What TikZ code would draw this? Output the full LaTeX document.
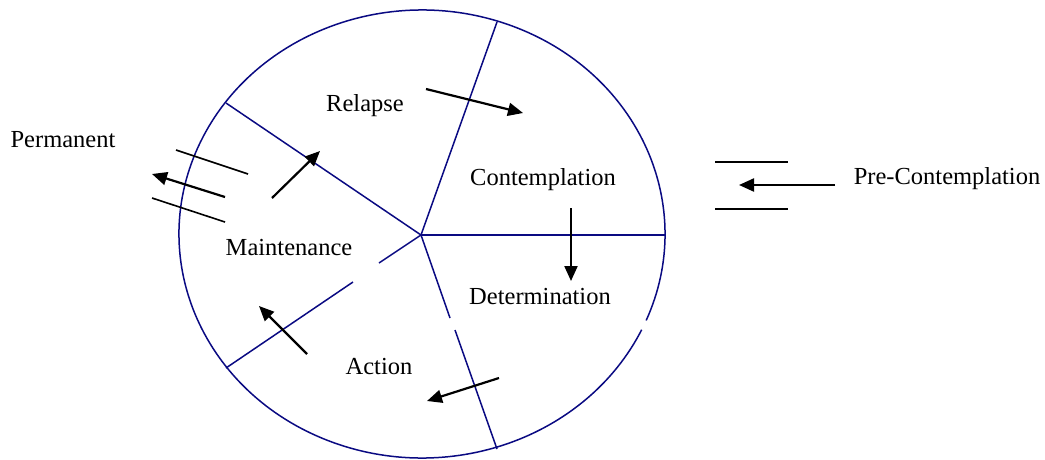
\documentclass[tikz,border=0pt]{standalone}
\usepackage{fontspec}
\setmainfont{Liberation Serif}
\usetikzlibrary{arrows.meta,calc}
\definecolor{ringblue}{RGB}{10,10,130}
\tikzset{
  ring/.style={draw=ringblue, line width=1.5pt},
  flow/.style={draw=black, line width=2.2pt, -{Triangle[length=15pt,width=13pt]}},
  bar/.style={draw=black, line width=1.6pt},
  lbl/.style={font=\fontsize{24.5}{29}\selectfont, anchor=base, inner sep=0pt}
}
\begin{document}
\begin{tikzpicture}[x=1pt,y=1pt]
\useasboundingbox (0,0) rectangle (1045,-459);
% ellipse with small gap at lower right
\coordinate (ctr) at (421,-235);
\draw[ring] ($(422,-234)+(-22.7:243pt and 224pt)$) arc[start angle=-22.7, end angle=334.7, x radius=243pt, y radius=224pt];
% spokes
\coordinate (sR) at (665,-235);
\coordinate (sT) at (497,-22);
\coordinate (sUL) at (226,-103);
\coordinate (sLL) at (226,-368);
\coordinate (sB) at (497,-449);
\coordinate (gA1) at (379,-263);
\coordinate (gA2) at (353,-282);
\coordinate (gB1) at (450,-318);
\coordinate (gB2) at (455,-330);
\draw[ring] (ctr) -- (sR);
\draw[ring] (ctr) -- (sT);
\draw[ring] (ctr) -- (sUL);
\draw[ring] (ctr) -- (gA1);
\draw[ring] (gA2) -- (sLL);
\draw[ring] (ctr) -- (gB1);
\draw[ring] (gB2) -- (sB);
% labels
\node[lbl] (relapse) at (365,-111) {Relapse};
\node[lbl] (contemp) at (543,-185) {Contemplation};
\node[lbl] (maint) at (289,-255) {Maintenance};
\node[lbl] (determ) at (540,-304) {Determination};
\node[lbl] (action) at (379,-374) {Action};
\node[lbl] (perm) at (63,-147) {Permanent};
\node[lbl] (precon) at (947,-184) {Pre-Contemplation};
% arrows
\coordinate (a1s) at (426,-89);  \coordinate (a1e) at (523,-113);
\coordinate (a2s) at (571,-208); \coordinate (a2e) at (571,-281);
\coordinate (a3s) at (499,-378); \coordinate (a3e) at (427,-401);
\coordinate (a4s) at (307,-354); \coordinate (a4e) at (259,-306);
\coordinate (a5s) at (272,-198); \coordinate (a5e) at (320,-151);
\coordinate (a6s) at (225,-197); \coordinate (a6e) at (152,-174);
\coordinate (a7s) at (835,-185); \coordinate (a7e) at (739,-185);
\draw[flow] (a1s) -- (a1e);
\draw[flow] (a2s) -- (a2e);
\draw[flow] (a3s) -- (a3e);
\draw[flow] (a4s) -- (a4e);
\draw[flow] (a5s) -- (a5e);
\draw[flow] (a6s) -- (a6e);
\draw[flow] (a7s) -- (a7e);
% bars
\coordinate (b1s) at (176,-150); \coordinate (b1e) at (248,-174);
\coordinate (b2s) at (152,-198); \coordinate (b2e) at (225,-222);
\coordinate (b3s) at (715,-162); \coordinate (b3e) at (788,-162);
\coordinate (b4s) at (715,-209); \coordinate (b4e) at (788,-209);
\draw[bar] (b1s) -- (b1e);
\draw[bar] (b2s) -- (b2e);
\draw[bar] (b3s) -- (b3e);
\draw[bar] (b4s) -- (b4e);
\end{tikzpicture}
\end{document}
